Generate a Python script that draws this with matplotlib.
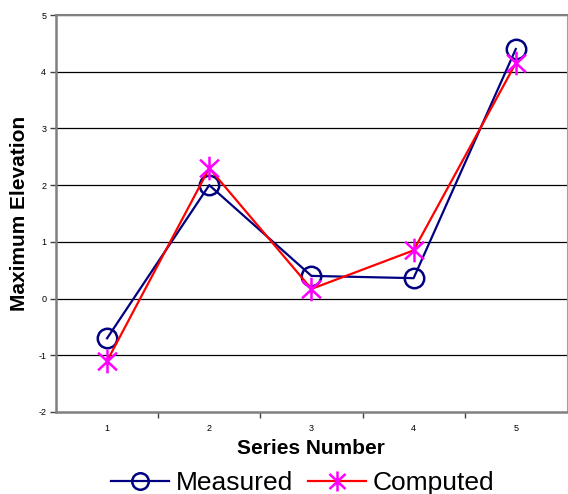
import matplotlib.pyplot as plt
from matplotlib.path import Path
from matplotlib.ticker import FixedLocator

plt.rcParams['font.family'] = ['Liberation Sans', 'DejaVu Sans']
plt.rcParams['axes.unicode_minus'] = False

# Данные для графика
series = [1, 2, 3, 4, 5]
measured = [-0.70, 2.00, 0.40, 0.36, 4.40]
computed = [-1.10, 2.30, 0.17, 0.85, 4.15]

# Маркер-звёздочка: вертикальная черта и косой крест
star = Path([(0, -1), (0, 1), (-0.8, -0.75), (0.8, 0.75), (-0.8, 0.75), (0.8, -0.75)],
            [Path.MOVETO, Path.LINETO, Path.MOVETO, Path.LINETO, Path.MOVETO, Path.LINETO])

fig = plt.figure(figsize=(5.68, 4.94), dpi=100)
ax = fig.add_axes([0.0986, 0.166, 0.8994, 0.8036])

# Сетка по оси Y
for yv in range(-1, 6):
    ax.axhline(yv, color='black', lw=0.9, zorder=1)

# Измеренные значения
ax.plot(series, measured, color='#000080', lw=1.6, marker='o', markersize=14,
        markerfacecolor='none', markeredgecolor='#000080', markeredgewidth=1.8,
        label='Measured', zorder=3)
# Расчётные значения
ax.plot(series, computed, color='#FF0000', lw=1.6, marker=star, markersize=17,
        markeredgecolor='#FF00FF', markeredgewidth=1.8,
        label='Computed', zorder=4)

ax.set_xlim(0.5, 5.5)
ax.set_ylim(-2, 5)

ax.set_yticks(range(-2, 6))
ax.set_xticks(series)
ax.xaxis.set_minor_locator(FixedLocator([1.5, 2.5, 3.5, 4.5]))
ax.tick_params(axis='x', which='major', length=0, pad=9, labelsize=6.5)
ax.tick_params(axis='x', which='minor', length=4, width=1, direction='out', color='#404040')
ax.tick_params(axis='y', length=4, width=1, direction='out', labelsize=6.5, pad=3, color='#404040')

for side in ['left', 'bottom']:
    ax.spines[side].set_color('#808080')
    ax.spines[side].set_linewidth(1.8)
ax.spines['top'].set_color('#808080')
ax.spines['top'].set_linewidth(1.5)
ax.spines['right'].set_color('#a0a0a0')
ax.spines['right'].set_linewidth(0.8)

ax.set_xlabel('Series Number', fontsize=15, fontweight='bold', labelpad=4)
ax.set_ylabel('Maximum Elevation', fontsize=15, fontweight='bold', labelpad=7)

fig.legend(loc='center', bbox_to_anchor=(0.533, 0.022), ncol=2, frameon=False,
           fontsize=19, handlelength=2.2, handletextpad=0.25, columnspacing=0.55,
           borderpad=0, borderaxespad=0, markerscale=0.85)

fig.savefig('out.png', dpi=100)
